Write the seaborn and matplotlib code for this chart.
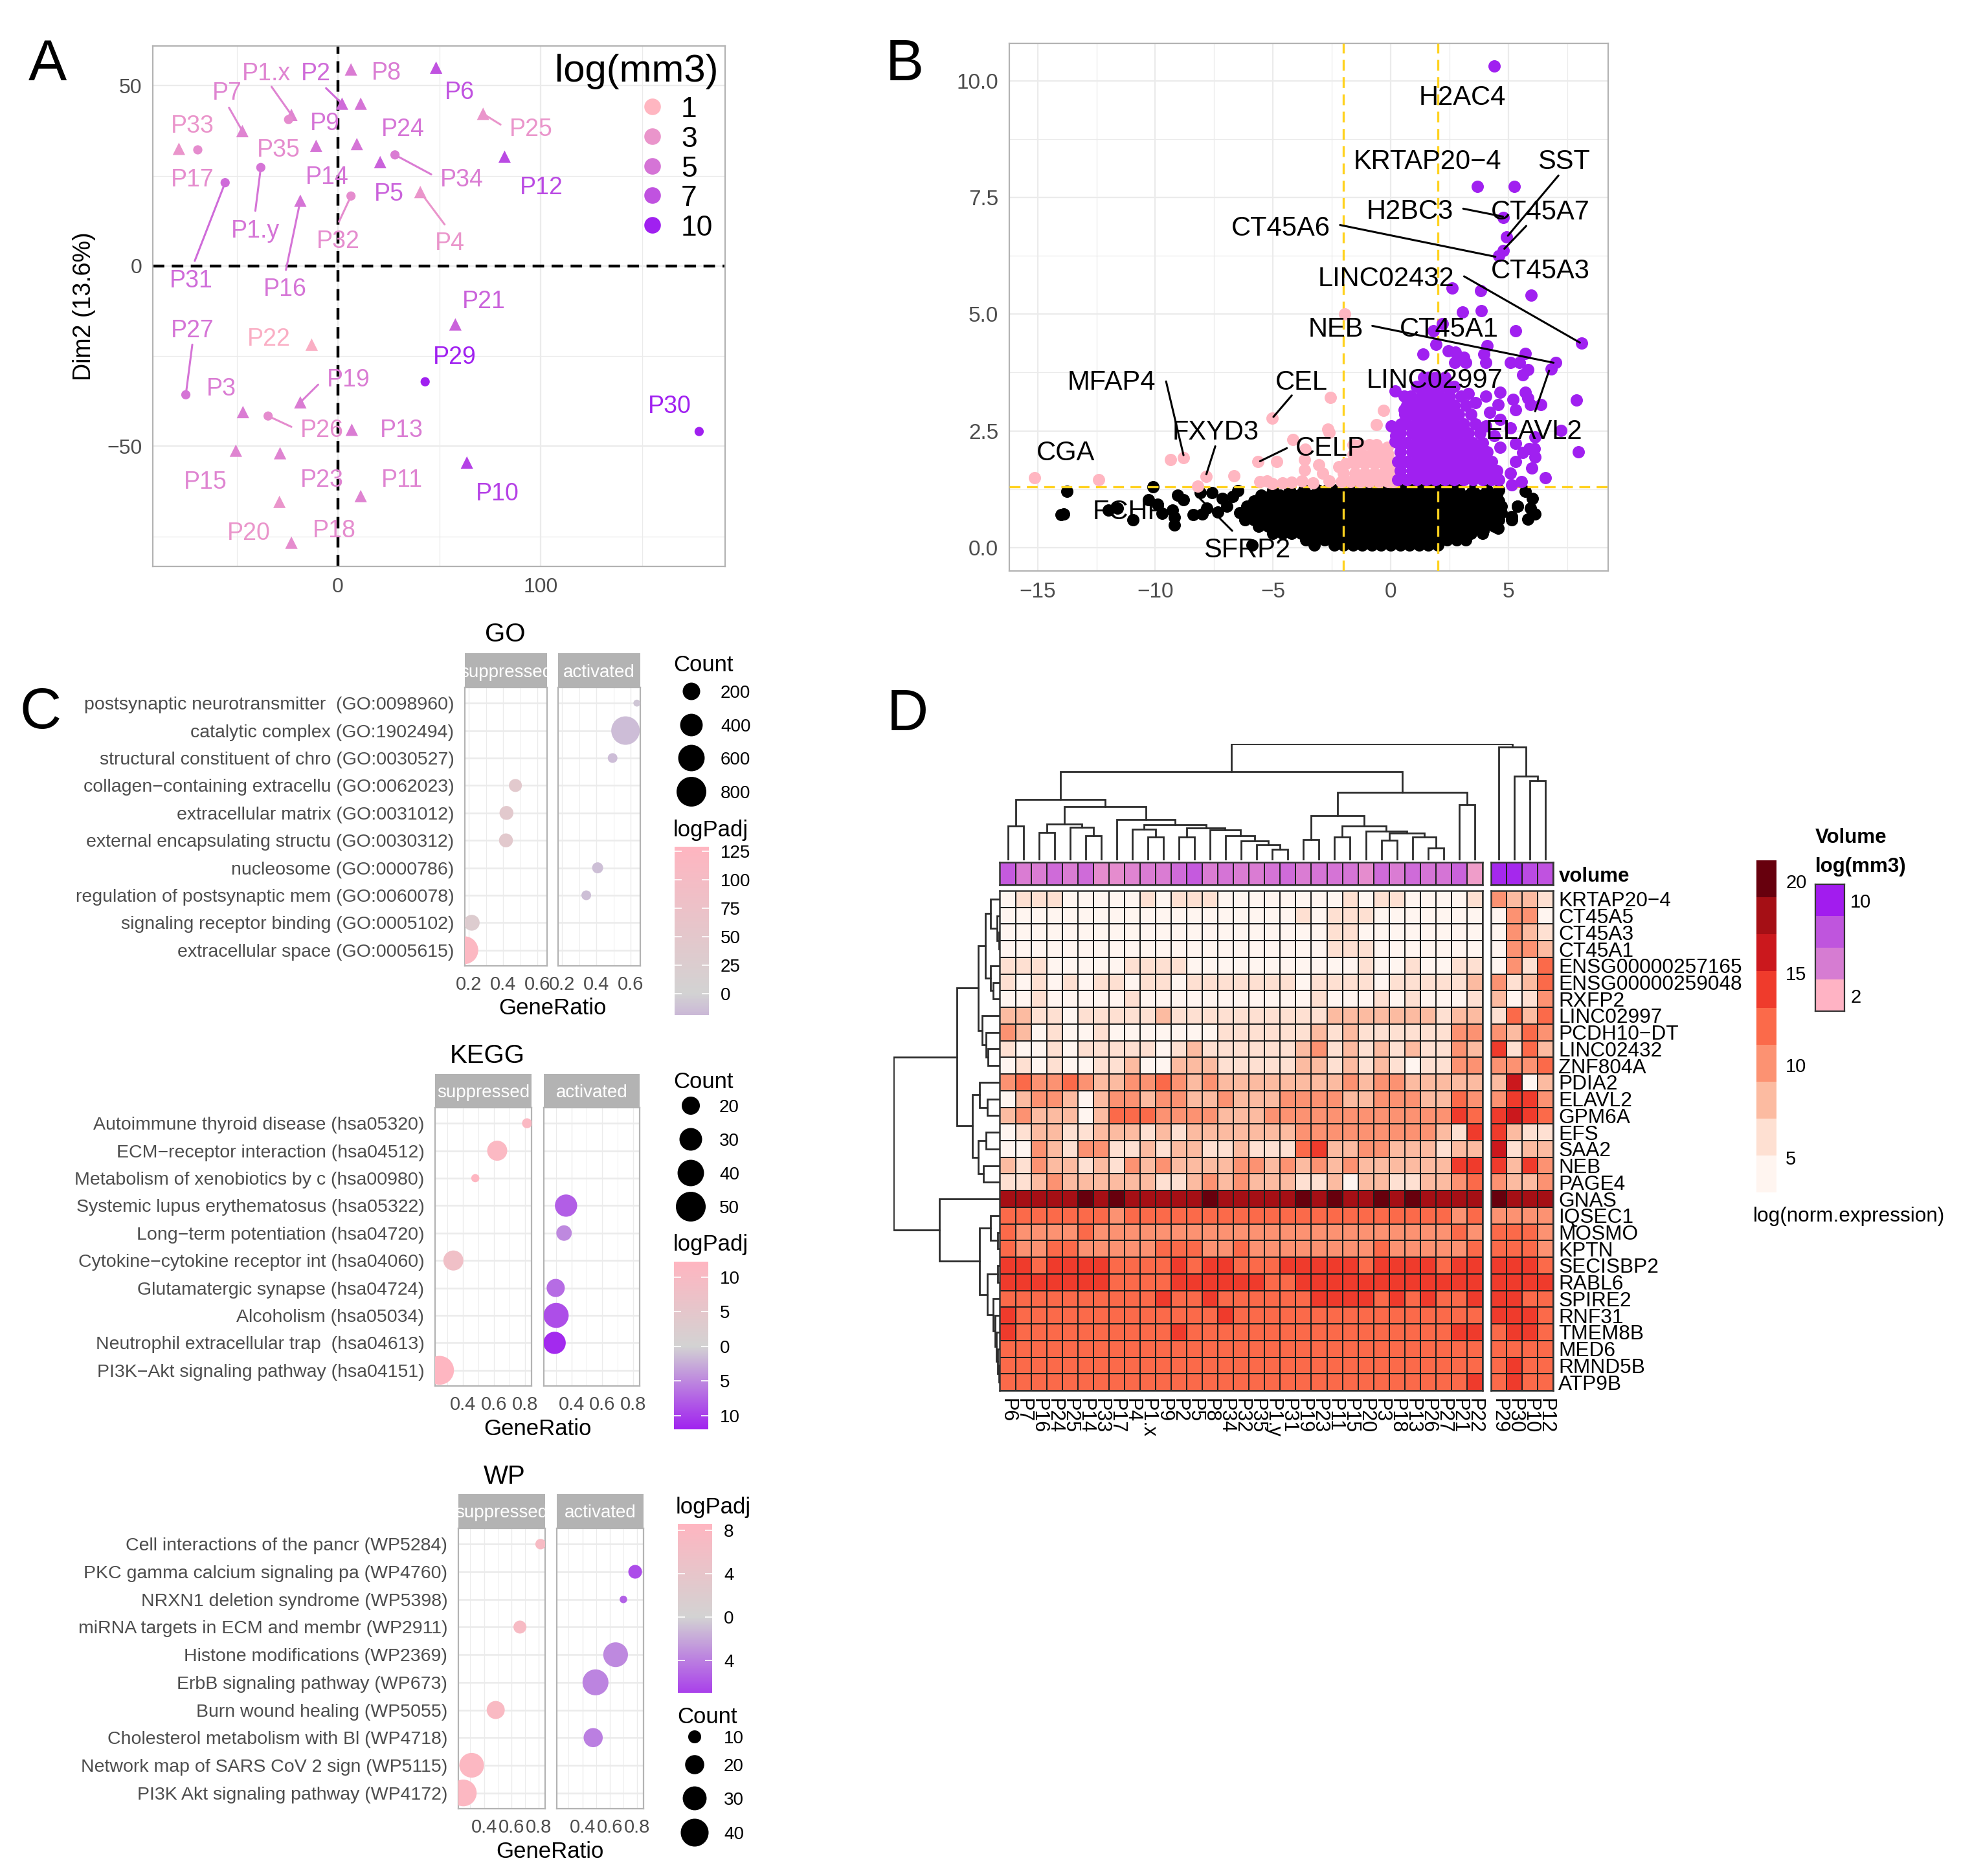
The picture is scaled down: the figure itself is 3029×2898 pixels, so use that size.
import numpy as np
import pandas as pd
import matplotlib
matplotlib.use("Agg")
import matplotlib.pyplot as plt
from matplotlib.colors import LinearSegmentedColormap, ListedColormap, Normalize
import seaborn as sns

W, H = 3029, 2898
PX = 100 / 72  # pixels per point at dpi 100
GREY = "#4D4D4D"
FRAME = "#B3B3B3"
GRIDC = "#EBEBEB"
PINK = "#FFB6C1"
PURPLE = "#A020F0"

# panel A
a_names = ["P8", "P6", "P2", "P9", "P25", "P1.x", "P35", "P7", "P33", "P17", "P14", "P24", "P5", "P34", "P12",
           "P1.y", "P31", "P4", "P32", "P16", "P21", "P22", "P29", "P27", "P19", "P3", "P26", "P13", "P30",
           "P15", "P23", "P10", "P11", "P20", "P18"]
a_x = [6.4, 48.4, 2.0, 11.2, 71.6, -23.0, -24.4, -47.2, -78.5, -69.2, -10.8, 9.3, 20.8, 28.1, 82.2,
       -38.1, -55.7, 40.6, 6.4, -18.6, 57.9, -13.0, 43.0, -75.1, -18.6, -46.9, -34.5, 6.8, 178.2,
       -50.4, -28.6, 63.6, 11.2, -28.9, -23.0]
a_y = [54.5, 55.0, 45.0, 45.0, 42.2, 41.9, 40.6, 37.4, 32.5, 32.2, 33.3, 33.8, 28.8, 30.8, 30.3,
       27.3, 23.1, 20.5, 19.4, 18.1, -16.2, -21.8, -32.1, -35.7, -37.8, -40.5, -41.6, -45.4, -45.9,
       -51.2, -51.9, -54.5, -63.8, -65.4, -76.7]
a_vol = [4.5, 7, 5.5, 5, 3, 4, 3.5, 4, 3, 3.5, 5, 5, 6, 4.5, 7.5,
         5, 5.5, 3, 3.5, 5, 6, 1.5, 10, 5, 4.5, 4.5, 3.5, 4.5, 10,
         4, 4, 8, 4, 3, 3.5]
a_shape = ["t", "t", "t", "t", "t", "t", "c", "t", "t", "c", "t", "t", "t", "c", "t",
           "c", "c", "t", "c", "t", "t", "t", "c", "c", "t", "t", "c", "t", "c",
           "t", "t", "t", "t", "t", "t"]
a_label_x = [24.0, 59.9, -10.8, -6.6, 95.4, -35.2, -29.3, -54.8, -71.9, -71.9, -5.4, 32.0, 25.2, 61.1, 100.5,
             -40.8, -72.4, 55.3, 0.0, -26.2, 72.1, -34.0, 57.7, -71.9, 5.1, -57.5, -7.8, 31.5, 163.6,
             -65.3, -7.8, 78.5, 31.5, -44.0, -2.0]
a_label_y = [54.2, 48.8, 54.0, 40.1, 38.5, 54.0, 32.8, 48.6, 39.5, 24.5, 25.2, 38.5, 20.7, 24.5, 22.4,
             10.3, -3.5, 6.9, 7.6, -5.7, -9.2, -19.5, -24.7, -17.2, -30.9, -33.4, -44.9, -44.9, -38.3,
             -59.3, -58.8, -62.5, -58.8, -73.4, -72.7]
a_leader_names = ["P2", "P1.x", "P7", "P25", "P34", "P1.y", "P31", "P4", "P32", "P16", "P27", "P19", "P26"]
a_leader_x = [-5.9, -32.8, -53.8, 80.2, 46.0, -40.8, -70.7, 52.6, 0.5, -25.7, -71.9, -9.8, -23.0]
a_leader_y = [49.3, 49.7, 43.9, 39.2, 25.4, 15.3, 1.4, 11.5, 12.3, -1.1, -21.8, -32.9, -44.6]
a_legend = [1, 3, 5, 7, 10]

# panel B
black_levels = [0.05, 0.17, 0.30, 0.45, 0.60, 0.75, 0.88, 1.00, 1.12, 1.24]
black_rows = [
    [-5.9, -3.25, -2.4, -2.0, -1.6, -1.2, -0.8, -0.4, 0.0, 0.4, 0.8, 1.2, 1.6, 2.0],
    [-3.6, -3.2, -2.8, -2.4, -2.0, -1.6, -1.2, -0.8, -0.4, 0.0, 0.4, 0.8, 1.2, 1.6, 2.0, 2.4, 2.8, 3.2],
    [-5.0, -4.6, -4.2, -3.8, -3.4, -3.0, -2.6, -2.2, -1.8, -1.4, -1.0, -0.6, -0.2, 0.2, 0.6, 1.0, 1.4, 1.8, 2.2,
     2.6, 3.0, 3.4, 3.9],
    [-5.6, -5.2, -4.8, -4.4, -4.0, -3.6, -3.2, -2.8, -2.4, -2.0, -1.6, -1.2, -0.8, -0.4, 0.0, 0.4, 0.8, 1.2, 1.6,
     2.0, 2.4, 2.8, 3.2, 3.6, 4.0, 4.4],
    [-6.2, -5.8, -5.4, -5.0, -4.6, -4.2, -3.8, -3.4, -3.0, -2.6, -2.2, -1.8, -1.4, -1.0, -0.6, -0.2, 0.2, 0.6, 1.0,
     1.4, 1.8, 2.2, 2.6, 3.0, 3.4, 3.8, 4.2, 4.6, 5.13],
    [-6.4, -6.0, -5.6, -5.2, -4.8, -4.4, -4.0, -3.6, -3.2, -2.8, -2.4, -2.0, -1.6, -1.2, -0.8, -0.4, 0.0, 0.4, 0.8,
     1.2, 1.6, 2.0, 2.4, 2.8, 3.2, 3.6, 4.0, 4.4, 4.7],
    [-6.1, -5.7, -5.3, -4.9, -4.5, -4.1, -3.7, -3.3, -2.9, -2.5, -2.1, -1.7, -1.3, -0.9, -0.5, -0.1, 0.3, 0.7, 1.1,
     1.5, 1.9, 2.3, 2.7, 3.1, 3.5, 3.9, 4.3, 4.7, 5.4],
    [-5.8, -5.4, -5.0, -4.6, -4.2, -3.8, -3.4, -3.0, -2.6, -2.2, -1.8, -1.4, -1.0, -0.6, -0.2, 0.2, 0.6, 1.0, 1.4,
     1.8, 2.2, 2.6, 3.0, 3.4, 3.8, 4.2, 4.6],
    [-5.5, -5.1, -4.7, -4.3, -3.9, -3.5, -3.1, -2.7, -2.3, -1.9, -1.5, -1.1, -0.7, -0.3, 0.1, 0.5, 0.9, 1.3, 1.7,
     2.1, 2.5, 2.9, 3.3, 3.7, 4.1, 4.5],
    [-5.0, -4.3, -3.7, -3.1, -2.7, -2.3, -1.9, -1.5, -1.1, -0.7, -0.3, 0.1, 0.5, 0.9, 1.3, 1.7, 2.1, 2.5, 2.9, 3.5,
     4.1, 4.6],
]
black_sparse_x = [-13.76, -10.1, -14.0, -13.9, -12.0, -11.6, -10.95, -10.3, -9.9, -9.7, -9.26, -9.2, -9.2, -9.05,
                  -8.8, -8.4, -8.0, -7.8, -7.35, -8.1, -7.6, -7.15, -6.7, -6.5, -6.95, 5.72, 6.03, 5.93, 5.4,
                  6.14, 5.13, 5.82, 4.56, 3.92]
black_sparse_y = [1.2, 1.3, 0.7, 0.72, 0.8, 0.84, 0.59, 1.03, 0.93, 0.73, 0.8, 0.65, 0.49, 1.12,
                  1.03, 0.7, 0.72, 0.84, 0.76, 1.18, 1.18, 1.05, 1.09, 1.22, 0.88, 1.2, 1.05, 0.84, 0.88,
                  0.72, 0.67, 0.61, 0.42, 0.36]
purple_levels = [1.45, 1.65, 1.85, 2.05, 2.25, 2.45, 2.65, 2.85, 3.05, 3.25, 3.45, 3.65]
purple_rows = [
    [0.3, 0.7, 1.1, 1.5, 1.9, 2.3, 2.7, 3.1, 3.5, 3.9, 4.3, 4.6],
    [0.4, 0.9, 1.3, 1.7, 2.1, 2.5, 2.9, 3.3, 3.7, 4.1, 4.5],
    [0.3, 0.7, 1.1, 1.5, 1.9, 2.3, 2.7, 3.1, 3.5, 3.9, 4.3],
    [0.4, 0.9, 1.3, 1.7, 2.1, 2.5, 2.9, 3.3, 3.7, 4.1],
    [0.3, 0.7, 1.1, 1.5, 1.9, 2.3, 2.7, 3.1, 3.5, 3.9],
    [0.4, 0.9, 1.3, 1.7, 2.1, 2.5, 2.9, 3.3, 3.8],
    [0.45, 0.7, 1.1, 1.5, 1.9, 2.3, 2.7, 3.1, 3.6],
    [0.6, 0.9, 1.3, 1.7, 2.1, 2.5, 2.9, 3.4],
    [0.7, 1.1, 1.5, 1.9, 2.3, 2.7, 3.2],
    [0.85, 1.3, 1.7, 2.1, 2.5, 3.0],
    [1.1, 1.5, 1.9, 2.3, 2.7],
    [1.4, 1.9, 2.3],
]
purple_sparse_x = [4.39, 3.69, 5.25, 4.79, 4.92, 4.79, 4.58, 2.6, 3.82, 5.97, 3.06, 3.86, 2.19, 1.81, 5.32, 8.12,
                   1.92, 4.11, 1.37, 2.45, 2.76, 3.95, 5.72, 3.1, 2.72, 3.19, 4.03, 5.08, 5.46, 7.0, 6.81, 5.82,
                   5.61, 0.19, 0.59, 4.66, 5.72, 4.03, 5.19, 5.82, 7.89, 6.39, 5.93, 4.56, 0.59, 5.3, 4.66, 5.08,
                   4.03, 7.24, 6.14, 5.3, 5.89, 6.1, 5.61, 7.97, 6.14, 4.66, 5.3, 5.99, 5.08, 6.56, 5.55, 5.13,
                   0.02, 0.23, 0.19, 1.6, 2.3, 3.3, 3.6, 4.2, 4.4, 3.8, 4.0]
purple_sparse_y = [10.31, 7.74, 7.74, 7.07, 6.65, 6.36, 6.25, 5.56, 5.51, 5.4, 5.05, 5.07, 4.8, 4.65, 4.65, 4.38,
                   4.35, 4.33, 4.14, 4.21, 4.18, 4.14, 4.16, 4.08, 3.96, 3.96, 3.96, 3.96, 3.96, 3.96, 3.83, 3.81,
                   3.7, 3.36, 3.24, 3.33, 3.33, 3.24, 3.17, 3.2, 3.16, 3.07, 3.07, 3.07, 2.95, 2.95, 2.74, 2.57,
                   2.6, 2.51, 2.37, 2.23, 2.12, 2.12, 2.04, 2.05, 1.94, 2.15, 1.85, 1.71, 1.6, 1.5, 1.41, 1.35,
                   2.6, 2.4, 2.27, 3.65, 3.6, 3.3, 3.1, 2.9, 2.4, 2.2, 1.9]
pink_levels = [1.42, 1.60, 1.80, 2.00, 2.20]
pink_rows = [
    [-2.1, -1.7, -1.3, -0.9, -0.5, -0.1, 0.1],
    [-2.0, -1.5, -1.1, -0.7, -0.3, 0.0, 0.15],
    [-1.9, -1.5, -1.1, -0.7, -0.3, -0.05],
    [-1.6, -1.2, -0.8, -0.4, -0.1],
    [-1.6, -1.3, -0.9, -0.6],
]
pink_sparse_x = [-15.13, -12.4, -9.35, -8.8, -7.83, -8.2, -6.67, -5.65, -4.83, -5.04, -4.16, -3.63, -3.65, -3.67,
                 -3.78, -3.04, -2.89, -2.68, -2.6, -2.55, -1.94, -0.3, -0.61, -5.57, -5.25, -5.04, -2.19, -2.6,
                 -3.3, -0.13, -4.6, -4.2]
pink_sparse_y = [1.49, 1.45, 1.89, 1.93, 1.52, 1.32, 1.54, 1.84, 1.84, 2.77, 2.31, 2.1, 1.88, 1.66,
                 1.43, 1.77, 1.6, 2.53, 2.47, 3.21, 5.01, 2.94, 2.63, 1.41, 1.43, 1.37, 1.73, 1.43,
                 1.38, 2.15, 1.38, 1.4]
b_labels = ["H2AC4", "KRTAP20\u22124", "SST", "H2BC3", "CT45A7", "CT45A6", "CT45A3", "LINC02432", "NEB", "CT45A1",
            "MFAP4", "CEL", "LINC02997", "FXYD3", "ELAVL2", "CELP", "CGA", "FCHP", "SFRP2"]
b_label_x = [3.04, 1.56, 7.36, 0.82, 6.35, -4.66, 6.35, -0.19, -2.34, 2.47, -11.86, -3.78, 1.86, -7.43, 6.1, -2.55,
             -13.8, -11.1, -6.1]
b_label_y = [9.7, 8.33, 8.33, 7.26, 7.24, 6.9, 5.98, 5.82, 4.74, 4.73, 3.6, 3.6, 3.64, 2.53, 2.54, 2.18, 2.08, 0.83,
             0.0]
b_leader_x0 = [7.13, 3.08, 5.76, -2.15, 3.12, -0.78, 6.14, -9.54, -4.2, -7.45, -4.41, -6.73]
b_leader_y0 = [7.97, 7.26, 6.89, 6.91, 5.81, 4.75, 2.92, 3.56, 3.26, 2.17, 2.13, 0.36]
b_leader_x1 = [4.98, 4.77, 4.83, 4.45, 8.04, 6.92, 6.73, -8.8, -4.98, -7.83, -5.55, -8.1]
b_leader_y1 = [6.68, 7.09, 6.4, 6.23, 4.39, 3.96, 3.79, 1.98, 2.8, 1.57, 1.85, 1.05]

# panel C
go_terms = ["postsynaptic neurotransmitter  (GO:0098960)", "catalytic complex (GO:1902494)",
            "structural constituent of chro (GO:0030527)", "collagen\u2212containing extracellu (GO:0062023)",
            "extracellular matrix (GO:0031012)", "external encapsulating structu (GO:0030312)",
            "nucleosome (GO:0000786)", "regulation of postsynaptic mem (GO:0060078)",
            "signaling receptor binding (GO:0005102)", "extracellular space (GO:0005615)"]
go_side = ["a", "a", "a", "s", "s", "s", "a", "a", "s", "s"]
go_ratio = [0.635, 0.569, 0.494, 0.471, 0.419, 0.416, 0.407, 0.341, 0.217, 0.174]
go_count = [4, 720, 27, 80, 100, 100, 45, 27, 150, 680]
go_logpadj = [-10, -16, -16, 45, 45, 45, -15, -15, 30, 120]

kegg_terms = ["Autoimmune thyroid disease (hsa05320)", "ECM\u2212receptor interaction (hsa04512)",
              "Metabolism of xenobiotics by c (hsa00980)", "Systemic lupus erythematosus (hsa05322)",
              "Long\u2212term potentiation (hsa04720)", "Cytokine\u2212cytokine receptor int (hsa04060)",
              "Glutamatergic synapse (hsa04724)", "Alcoholism (hsa05034)",
              "Neutrophil extracellular trap  (hsa04613)", "PI3K\u2212Akt signaling pathway (hsa04151)"]
kegg_side = ["s", "s", "s", "a", "a", "s", "a", "a", "a", "s"]
kegg_ratio = [0.813, 0.621, 0.48, 0.365, 0.352, 0.339, 0.298, 0.301, 0.291, 0.25]
kegg_count = [7, 24, 5, 29, 15, 24, 20, 36, 29, 47]
kegg_logpadj = [11, 11, 12, -8, -5, 8, -7, -9, -11.5, 12]

wp_terms = ["Cell interactions of the pancr (WP5284)", "PKC gamma calcium signaling pa (WP4760)",
            "NRXN1 deletion syndrome (WP5398)", "miRNA targets in ECM and membr (WP2911)",
            "Histone modifications (WP2369)", "ErbB signaling pathway (WP673)",
            "Burn wound healing (WP5055)", "Cholesterol metabolism with Bl (WP4718)",
            "Network map of SARS CoV 2 sign (WP5115)", "PI3K Akt signaling pathway (WP4172)"]
wp_side = ["s", "a", "a", "s", "a", "a", "s", "a", "s", "s"]
wp_ratio = [0.814, 0.786, 0.70, 0.663, 0.643, 0.496, 0.486, 0.479, 0.31, 0.249]
wp_count = [7, 11, 4, 10, 32, 35, 18, 20, 32, 37]
wp_logpadj = [7, -6.5, -5.5, 7, -3.5, -3.8, 7.5, -4, 8, 8]

# panel D
main_cols = ["P6", "P7", "P16", "P24", "P25", "P14", "P33", "P17", "P4", "P1.x", "P9", "P2", "P5", "P8", "P34", "P32",
             "P35", "P1.y", "P31", "P19", "P23", "P11", "P15", "P20", "P3", "P18", "P13", "P26", "P27", "P21", "P22"]
side_cols = ["P29", "P30", "P10", "P12"]
volume_main = [6.5, 4.5, 4.5, 5.5, 4.5, 5.5, 3.5, 3.5, 4, 4.5, 4.5, 5.5, 6.5, 4.5, 5, 4.5, 4.5, 5, 5.5, 4.5, 5, 5, 5,
               3.5, 5.5, 4.5, 5.5, 5, 5, 6, 2.5]
volume_side = [9.5, 9.5, 7.5, 7]
genes = ["KRTAP20\u22124", "CT45A5", "CT45A3", "CT45A1", "ENSG00000257165", "ENSG00000259048", "RXFP2", "LINC02997",
         "PCDH10\u2212DT", "LINC02432", "ZNF804A", "PDIA2", "ELAVL2", "GPM6A", "EFS", "SAA2", "NEB", "PAGE4", "GNAS",
         "IQSEC1", "MOSMO", "KPTN", "SECISBP2", "RABL6", "SPIRE2", "RNF31", "TMEM8B", "MED6", "RMND5B", "ATP9B"]
# colour steps of the heatmap, 0 to 8, each step is 2 units of log expression
expr_main = [
    [0, 1, 1, 1, 0, 0, 0, 0, 0, 1, 0, 1, 1, 1, 0, 0, 0, 0, 0, 0, 0, 0, 1, 0, 1, 1, 0, 0, 0, 0, 1],
    [0, 0, 0, 0, 0, 0, 0, 0, 0, 0, 0, 0, 0, 0, 0, 0, 0, 0, 0, 1, 0, 1, 1, 1, 0, 0, 0, 0, 0, 0, 0],
    [0, 0, 0, 0, 0, 0, 0, 0, 0, 0, 0, 0, 0, 0, 0, 0, 0, 0, 0, 0, 0, 1, 1, 0, 0, 0, 0, 0, 0, 0, 0],
    [0, 0, 0, 0, 0, 0, 0, 0, 0, 0, 0, 0, 0, 0, 0, 0, 0, 0, 0, 0, 0, 1, 1, 1, 0, 0, 0, 0, 0, 0, 0],
    [1, 1, 1, 0, 0, 0, 0, 0, 1, 1, 1, 1, 0, 0, 0, 0, 0, 0, 0, 0, 0, 0, 0, 1, 0, 0, 1, 0, 0, 1, 1],
    [1, 0, 1, 0, 1, 0, 1, 1, 0, 1, 1, 0, 1, 1, 1, 1, 1, 1, 1, 0, 1, 1, 1, 1, 0, 1, 1, 1, 1, 1, 2],
    [0, 0, 1, 0, 0, 0, 0, 0, 1, 0, 0, 0, 0, 0, 0, 0, 0, 0, 0, 0, 1, 0, 0, 0, 1, 0, 1, 0, 0, 0, 1],
    [2, 2, 1, 1, 0, 1, 1, 1, 1, 1, 2, 1, 1, 1, 1, 1, 1, 1, 1, 1, 1, 2, 2, 2, 2, 2, 2, 2, 1, 2, 2],
    [3, 2, 0, 1, 0, 0, 1, 0, 0, 0, 0, 0, 0, 0, 1, 1, 1, 1, 1, 1, 2, 1, 2, 1, 1, 1, 1, 1, 1, 3, 3],
    [1, 0, 0, 1, 0, 1, 1, 1, 1, 1, 0, 1, 2, 1, 1, 1, 1, 1, 1, 2, 3, 1, 2, 1, 2, 1, 2, 1, 1, 3, 2],
    [0, 1, 0, 1, 0, 0, 1, 1, 2, 0, 0, 2, 2, 2, 1, 1, 1, 1, 1, 2, 2, 1, 2, 1, 2, 1, 0, 1, 1, 3, 3],
    [3, 4, 3, 3, 4, 3, 2, 2, 3, 3, 4, 3, 2, 3, 2, 2, 2, 2, 2, 2, 2, 2, 3, 2, 3, 3, 2, 2, 2, 2, 2],
    [0, 2, 3, 3, 2, 0, 2, 3, 3, 2, 3, 3, 2, 2, 3, 2, 2, 2, 3, 3, 3, 3, 2, 2, 3, 3, 3, 2, 2, 4, 3],
    [2, 3, 2, 2, 2, 0, 2, 4, 4, 4, 3, 3, 3, 3, 2, 2, 2, 3, 3, 3, 3, 3, 3, 3, 3, 3, 3, 3, 3, 5, 4],
    [0, 1, 2, 2, 1, 1, 2, 2, 2, 1, 2, 1, 2, 2, 2, 2, 2, 2, 2, 3, 3, 3, 3, 3, 3, 3, 3, 3, 2, 1, 5],
    [0, 0, 3, 2, 1, 3, 3, 1, 1, 2, 1, 2, 2, 1, 1, 2, 1, 1, 1, 4, 5, 2, 2, 3, 3, 2, 2, 2, 1, 2, 2],
    [2, 1, 3, 2, 2, 1, 2, 1, 3, 2, 3, 2, 2, 2, 2, 3, 3, 2, 3, 2, 3, 2, 3, 2, 2, 2, 2, 2, 2, 5, 5],
    [1, 1, 2, 3, 2, 2, 2, 2, 2, 2, 1, 1, 2, 3, 2, 3, 2, 2, 2, 1, 1, 2, 0, 2, 2, 1, 1, 2, 2, 3, 4],
    [7, 7, 7, 7, 7, 8, 7, 8, 7, 7, 7, 7, 7, 8, 7, 7, 7, 7, 7, 8, 7, 8, 7, 7, 8, 7, 8, 7, 7, 7, 7],
    [4, 4, 4, 4, 4, 4, 4, 3, 4, 4, 4, 4, 4, 4, 4, 4, 4, 4, 4, 4, 4, 4, 4, 4, 4, 4, 4, 4, 4, 3, 4],
    [4, 3, 3, 3, 3, 4, 3, 3, 3, 3, 3, 3, 3, 3, 3, 3, 3, 3, 3, 3, 3, 3, 3, 3, 3, 3, 3, 3, 3, 4, 3],
    [4, 3, 3, 4, 4, 3, 3, 3, 3, 3, 4, 4, 4, 3, 3, 4, 3, 3, 3, 3, 3, 3, 3, 3, 4, 3, 3, 3, 3, 3, 4],
    [5, 5, 4, 5, 5, 5, 5, 4, 4, 4, 4, 5, 4, 5, 5, 4, 4, 4, 5, 5, 5, 5, 5, 4, 5, 5, 5, 5, 4, 5, 5],
    [5, 5, 5, 5, 5, 5, 5, 4, 4, 4, 4, 5, 5, 5, 5, 5, 5, 4, 4, 5, 5, 5, 5, 5, 5, 5, 5, 5, 5, 5, 5],
    [4, 4, 4, 4, 4, 4, 4, 4, 4, 4, 5, 4, 4, 5, 4, 4, 4, 4, 4, 4, 5, 5, 5, 5, 4, 5, 4, 5, 4, 4, 5],
    [5, 4, 4, 4, 4, 4, 4, 4, 4, 4, 4, 4, 4, 4, 5, 4, 4, 4, 4, 4, 4, 4, 4, 4, 4, 4, 4, 4, 4, 4, 4],
    [5, 4, 4, 4, 4, 4, 4, 4, 4, 4, 4, 5, 4, 4, 4, 4, 4, 4, 4, 4, 4, 4, 4, 4, 4, 4, 4, 4, 4, 5, 5],
    [4, 4, 4, 4, 4, 4, 4, 4, 4, 4, 4, 4, 4, 4, 4, 4, 4, 4, 4, 4, 4, 4, 4, 4, 4, 4, 4, 4, 4, 4, 4],
    [4, 4, 4, 4, 4, 4, 4, 4, 4, 4, 4, 4, 4, 4, 4, 4, 4, 4, 4, 4, 4, 4, 4, 4, 4, 4, 4, 4, 4, 4, 4],
    [4, 4, 4, 4, 4, 4, 4, 4, 4, 4, 4, 4, 4, 4, 4, 4, 4, 4, 4, 4, 4, 4, 4, 4, 4, 4, 4, 4, 4, 4, 5],
]
expr_side = [[3, 2, 2, 1], [0, 3, 3, 0], [0, 3, 2, 1], [0, 3, 3, 2], [0, 3, 1, 4], [3, 1, 2, 4], [2, 0, 1, 3],
             [1, 4, 2, 4], [3, 2, 4, 3], [5, 1, 4, 2], [3, 3, 3, 4], [2, 6, 0, 2], [3, 5, 5, 3], [5, 6, 5, 4],
             [5, 2, 1, 1], [6, 1, 2, 2], [5, 2, 5, 3], [3, 2, 2, 3], [8, 7, 7, 7], [3, 3, 3, 3], [4, 4, 4, 3],
             [4, 4, 4, 3], [5, 5, 5, 4], [5, 5, 5, 5], [5, 5, 4, 4], [5, 5, 5, 4], [4, 5, 5, 4], [4, 4, 4, 4],
             [4, 5, 4, 4], [4, 5, 4, 4]]
reds9 = ["#FFF5F0", "#FEE0D2", "#FCBBA1", "#FC9272", "#FB6A4A", "#EF3B2C", "#CB181D", "#A50F15", "#67000D"]
volume_steps = ["#FFB3C4", "#D67CD2", "#BF55DD", "#A21CEE"]

# dendrograms, each node is (height, left, right), a leaf is the column or row number
col_tree = (469,
            (357,
             (243, (137, 0, 1),
              (215, (144, (110, 2, 3), (132, 4, (99, 5, 6))),
               (163, 7,
                (142, (124, 8, (94, 9, 10)),
                 (130, (94, 11, 12),
                  (122, 13, (97, 14, (77, 15, (62, 16, (44, 17, 18)))))))))),
             (273,
              (180, (83, 19, 20),
               (137, (93, 21, 22),
                (117, 23, (109, (79, 24, 25), (94, 26, (48, 27, 28)))))),
              (224, 29, 30))),
            (456, 31, (338, 32, (320, 33, 34))))
row_tree = (258,
            (105,
             (53,
              (35, (23, 0, (7, 1, (3, 2, 3))), (23, 4, (17, 5, 6))),
              (43, 7, (33, 8, (29, 9, 10)))),
             (67,
              (50, 11, (30, 12, 13)),
              (53, (33, 14, 15), (40, 16, 17)))),
            (147, 18,
             (50,
              (23, 19, (5, 20, 21)),
              (30, (5, 22, 23),
               (17, 24, (12, 25, (8, 26, (5, 27, (3, 28, 29)))))))))

sns.set_theme(style="white")
plt.rcParams["font.family"] = ["Liberation Sans", "DejaVu Sans"]
plt.rcParams["axes.unicode_minus"] = True

volume_cmap = LinearSegmentedColormap.from_list("volume", [PINK, PURPLE])
volume_norm = Normalize(1, 10)
padj_cmap = LinearSegmentedColormap.from_list("padj", [PURPLE, "#D3D3D3", PINK])

fig = plt.figure(figsize=(W / 100, H / 100), dpi=100, facecolor="white")


def axes_px(x0, y0, x1, y1):
    return fig.add_axes([x0 / W, 1 - y1 / H, (x1 - x0) / W, (y1 - y0) / H])


def text_px(x, y, s, **kw):
    kw.setdefault("va", "center_baseline")
    kw.setdefault("ha", "left")
    kw.setdefault("color", "black")
    fig.text(x / W, 1 - y / H, s, **kw)


def frame_axes(ax, tick_size, pad=12):
    ax.set_axisbelow(True)
    ax.grid(True, which="major", color=GRIDC, linewidth=1.6)
    ax.grid(True, which="minor", color=GRIDC, linewidth=0.9)
    ax.tick_params(which="both", length=0)
    ax.tick_params(which="major", labelsize=tick_size, labelcolor=GREY, pad=pad)
    for spine in ax.spines.values():
        spine.set_visible(True)
        spine.set_color(FRAME)
        spine.set_linewidth(1.6)
    ax.set_xlabel("")
    ax.set_ylabel("")


def draw_tree(ax, node, horizontal, pos_of):
    """Returns (position, height) of the node and draws its two arms"""
    if not isinstance(node, tuple):
        return pos_of(node), 0
    h, left, right = node
    p0, h0 = draw_tree(ax, left, horizontal, pos_of)
    p1, h1 = draw_tree(ax, right, horizontal, pos_of)
    xs, ys = [p0, p0, p1, p1], [h0, h, h, h1]
    if horizontal:
        ax.plot(ys, xs, color="#2B2B2B", lw=2.0, solid_joinstyle="miter")
    else:
        ax.plot(xs, ys, color="#2B2B2B", lw=2.0, solid_joinstyle="miter")
    return (p0 + p1) / 2, h


# ---------- panel A
ax = axes_px(236, 71, 1120, 875)
a_df = pd.DataFrame({"x": a_x, "y": a_y, "vol": a_vol, "shape": a_shape, "name": a_names})
sns.scatterplot(data=a_df[a_df["shape"] == "t"], x="x", y="y", hue="vol", hue_norm=volume_norm, palette=volume_cmap,
                marker="^", s=190, linewidth=0, legend=False, ax=ax, zorder=3)
sns.scatterplot(data=a_df[a_df["shape"] == "c"], x="x", y="y", hue="vol", hue_norm=volume_norm, palette=volume_cmap,
                marker="o", s=105, linewidth=0, legend=False, ax=ax, zorder=3)
ax.set_xticks([0, 100])
ax.set_xticks([-50, 50, 150], minor=True)
ax.set_yticks([-50, 0, 50])
ax.set_yticks([-75, -25, 25], minor=True)
ax.set_xlim(-91.4, 191)
ax.set_ylim(-83.3, 61)
frame_axes(ax, 23)
ax.axhline(0, color="black", lw=3.2, linestyle=(0, (4, 2.6)), zorder=2)
ax.axvline(0, color="black", lw=3.2, linestyle=(0, (4, 2.6)), zorder=2)
for name, lx, ly, vol in zip(a_names, a_label_x, a_label_y, a_vol):
    ax.text(lx, ly, name, fontsize=27, color=volume_cmap(volume_norm(vol)), ha="center", va="center_baseline",
            zorder=5)
for name, lx, ly in zip(a_leader_names, a_leader_x, a_leader_y):
    i = a_names.index(name)
    ax.plot([lx, a_x[i]], [ly, a_y[i]], color=volume_cmap(volume_norm(a_vol[i])), lw=2.2, zorder=4)
text_px(130, 473, "Dim2 (13.6%)", fontsize=27, rotation=90, ha="center", va="center")
text_px(983, 104, "log(mm3)", fontsize=43, ha="center")
leg = axes_px(968, 130, 1048, 380)
leg.axis("off")
sns.scatterplot(x=[1008] * 5, y=[165, 211, 257, 302, 348], hue=a_legend, hue_norm=volume_norm, palette=volume_cmap,
                s=340, linewidth=0, legend=False, ax=leg)
leg.set_xlim(968, 1048)
leg.set_ylim(380, 130)
for val, yy in zip(a_legend, [165, 211, 257, 302, 348]):
    text_px(1052, yy, str(val), fontsize=32)
text_px(73, 91, "A", fontsize=64, ha="center")

# ---------- panel B
ax = axes_px(1559, 67, 2484, 882)
frame_dot = (19 / PX) ** 2
black_x = [v for row in black_rows for v in row] + black_sparse_x
black_y = [lv for lv, row in zip(black_levels, black_rows) for _ in row] + black_sparse_y
purple_x = [v for row in purple_rows for v in row] + purple_sparse_x
purple_y = [lv for lv, row in zip(purple_levels, purple_rows) for _ in row] + purple_sparse_y
pink_x = [v for row in pink_rows for v in row] + pink_sparse_x
pink_y = [lv for lv, row in zip(pink_levels, pink_rows) for _ in row] + pink_sparse_y
sns.scatterplot(x=black_x, y=black_y, color="black", s=frame_dot, linewidth=0, ax=ax, zorder=2)
for pos in [-2, 2]:
    ax.axvline(pos, color="#FFD21F", lw=2.4, linestyle=(0, (5, 3)), zorder=3)
ax.axhline(1.3, color="#FFD21F", lw=2.4, linestyle=(0, (5, 3)), zorder=3)
sns.scatterplot(x=pink_x, y=pink_y, color=PINK, s=frame_dot, linewidth=0, ax=ax, zorder=4)
sns.scatterplot(x=purple_x, y=purple_y, color=PURPLE, s=frame_dot, linewidth=0, ax=ax, zorder=4)
ax.set_xticks([-15, -10, -5, 0, 5])
ax.set_xticks([-12.5, -7.5, -2.5, 2.5, 7.5], minor=True)
ax.set_yticks([0, 2.5, 5, 7.5, 10])
ax.set_yticklabels(["0.0", "2.5", "5.0", "7.5", "10.0"])
ax.set_yticks([1.25, 3.75, 6.25, 8.75], minor=True)
ax.set_xlim(-16.2, 9.24)
ax.set_ylim(-0.5, 10.8)
frame_axes(ax, 24)
for name, lx, ly in zip(b_labels, b_label_x, b_label_y):
    ax.text(lx, ly, name, fontsize=30, color="black", ha="center", va="center_baseline", zorder=6)
for x0, y0, x1, y1 in zip(b_leader_x0, b_leader_y0, b_leader_x1, b_leader_y1):
    ax.plot([x0, x1], [y0, y1], color="black", lw=2.2, zorder=5)
text_px(1397, 92, "B", fontsize=64, ha="center")


# ---------- panel C
def enrich_panel(title, terms, side, ratio, count, logpadj, size_a, size_b, geom, xticks, xlim, pad_max):
    left0, left1, right0, right1, strip0, top, bottom = geom["x0"], geom["x1"], geom["x2"], geom["x3"], geom["s"], \
        geom["t"], geom["b"]
    df = pd.DataFrame({"side": side, "ratio": ratio, "count": count, "padj": logpadj})
    df["row"] = np.arange(len(terms))
    df["s"] = ((size_a + size_b * np.sqrt(df["count"])) / PX) ** 2
    for key, x0, x1, name in [("s", left0, left1, "suppressed"), ("a", right0, right1, "activated")]:
        strip = axes_px(x0, strip0, x1, top)
        strip.set_facecolor(FRAME)
        strip.set_xticks([])
        strip.set_yticks([])
        for spine in strip.spines.values():
            spine.set_visible(False)
        strip.text(0.5, 0.5, name, color="white", fontsize=20, ha="center", va="center_baseline",
                   transform=strip.transAxes, clip_on=True)
        ax = axes_px(x0, top, x1, bottom)
        part = df[df["side"] == key]
        sns.scatterplot(data=part, x="ratio", y="row", hue="padj", hue_norm=Normalize(-pad_max, pad_max),
                        palette=padj_cmap, s=part["s"].values, linewidth=0, legend=False, ax=ax, zorder=3)
        ax.set_xticks(xticks)
        ax.set_xticklabels([f"{t:.1f}" for t in xticks])
        ax.set_xticks([t + (xticks[1] - xticks[0]) / 2 for t in xticks[:-1]]
                      + [xticks[0] - (xticks[1] - xticks[0]) / 2], minor=True)
        ax.set_yticks(range(len(terms)))
        ax.set_xlim(*xlim)
        ax.set_ylim(9.57, -0.57)
        frame_axes(ax, 21, pad=5)
        ax.tick_params(axis="x", which="major", length=0, pad=11)
        ax.grid(True, axis="x", which="major", color=GRIDC, linewidth=1.0)
        ax.grid(True, axis="x", which="minor", color=GRIDC, linewidth=0.7)
        ax.grid(True, axis="y", which="major", color=GRIDC, linewidth=1.8)
        if key == "s":
            ax.set_yticklabels(terms, fontsize=20.5, color=GREY)
            ax.tick_params(axis="y", which="major", length=7, color=FRAME, width=1.4, pad=5)
        else:
            ax.set_yticklabels([])
    text_px(geom["tx"], geom["ty"], title, fontsize=29, ha="center")
    text_px(geom["gx"], geom["gy"], "GeneRatio", fontsize=25, ha="center")


def size_legend(counts, xc, ys, size_a, size_b, title_xy, label_x):
    lax = axes_px(xc - 60, ys[0] - 50, xc + 60, ys[-1] + 50)
    lax.axis("off")
    sizes = [((size_a + size_b * np.sqrt(c)) / PX) ** 2 for c in counts]
    sns.scatterplot(x=[xc] * len(counts), y=ys, color="black", s=sizes, linewidth=0, ax=lax)
    lax.set_xlim(xc - 60, xc + 60)
    lax.set_ylim(ys[-1] + 50, ys[0] - 50)
    text_px(title_xy[0], title_xy[1], "Count", fontsize=25, ha="center")
    for c, yy in zip(counts, ys):
        text_px(label_x, yy, str(c), fontsize=20)


def padj_bar(x0, y0, x1, y1, low, high, pad_max, ticks, labels, title_xy):
    cax = axes_px(x0, y0, x1, y1)
    grad = np.linspace(high, low, 256)[:, None]
    cax.imshow(grad, cmap=padj_cmap, vmin=-pad_max, vmax=pad_max, aspect="auto", extent=[0, 1, low, high])
    cax.set_xticks([])
    cax.yaxis.tick_right()
    cax.set_yticks(ticks)
    cax.set_yticklabels(labels, fontsize=20, color="black")
    cax.tick_params(axis="y", length=0, pad=13)
    cax.hlines(ticks, 0, 0.2, color="white", lw=1.2)
    cax.hlines(ticks, 0.8, 1, color="white", lw=1.2)
    cax.set_xlim(0, 1)
    cax.set_ylim(low, high)
    cax.grid(False)
    for spine in cax.spines.values():
        spine.set_visible(False)
    text_px(title_xy[0], title_xy[1], "logPadj", fontsize=25, ha="center")


go_a, go_b = 8.05, 1.34
kegg_a, kegg_b = -2.9, 6.92
wp_a, wp_b = -3.0, 7.28
enrich_panel("GO", go_terms, go_side, go_ratio, go_count, go_logpadj, go_a, go_b,
             dict(x0=718, x1=845, x2=862, x3=989, s=1009, t=1062, b=1492, tx=780, ty=976, gx=853, gy=1554),
             [0.2, 0.4, 0.6], (0.177, 0.655), 128.5)
size_legend([200, 400, 600, 800], 1068, [1068, 1120, 1171, 1223], go_a, go_b, (1086, 1024), 1113)
padj_bar(1042, 1308.5, 1095, 1568, -18.9, 128.5, 128.5, [0, 25, 50, 75, 100, 125],
         ["0", "25", "50", "75", "100", "125"], (1098, 1279))

enrich_panel("KEGG", kegg_terms, kegg_side, kegg_ratio, kegg_count, kegg_logpadj, kegg_a, kegg_b,
             dict(x0=672, x1=821, x2=840, x3=988, s=1659, t=1711, b=2141, tx=753, ty=1627, gx=830, gy=2204),
             [0.4, 0.6, 0.8], (0.221, 0.842), 12.2)
size_legend([20, 30, 40, 50], 1067, [1708, 1760, 1812, 1864], kegg_a, kegg_b, (1086, 1668), 1111)
padj_bar(1041, 1949, 1094, 2208, -12, 12.2, 12.2, [-10, -5, 0, 5, 10], ["10", "5", "0", "5", "10"], (1098, 1919))

enrich_panel("WP", wp_terms, wp_side, wp_ratio, wp_count, wp_logpadj, wp_a, wp_b,
             dict(x0=708, x1=842, x2=860, x3=994, s=2308, t=2361, b=2794, tx=779, ty=2277, gx=849, gy=2857),
             [0.4, 0.6, 0.8], (0.213, 0.847), 8.6)
size_legend([10, 20, 30, 40], 1073, [2683, 2726, 2778, 2831], wp_a, wp_b, (1092, 2649), 1118)
padj_bar(1047, 2354, 1100, 2615, -7, 8.6, 8.6, [-4, 0, 4, 8], ["4", "0", "4", "8"], (1102, 2325))
text_px(63, 1093, "C", fontsize=64, ha="center")

# ---------- panel D
hm_kw = dict(cmap=ListedColormap(reds9), vmin=0, vmax=9, cbar=False, linewidths=1.3, linecolor="#1E1E1E")

ax_main = axes_px(1544.5, 1376, 2290, 2148)
sns.heatmap(np.array(expr_main) + 0.5, ax=ax_main, xticklabels=main_cols, yticklabels=False, **hm_kw)
ax_side = axes_px(2303, 1376, 2399, 2148)
sns.heatmap(np.array(expr_side) + 0.5, ax=ax_side, xticklabels=side_cols, yticklabels=genes, **hm_kw)
ax_side.yaxis.tick_right()
ax_side.tick_params(axis="y", length=0, pad=6, labelsize=22.8, labelrotation=0, labelcolor="black")
for hm in [ax_main, ax_side]:
    hm.tick_params(axis="x", length=0, pad=9, labelsize=22, labelcolor="black")
    plt.setp(hm.get_xticklabels(), rotation=270, ha="center", va="top")
    for spine in hm.spines.values():
        spine.set_visible(True)
        spine.set_color("#333333")
        spine.set_linewidth(1.8)

ann_kw = dict(cmap=volume_cmap, vmin=1, vmax=10, cbar=False, linewidths=1.3, linecolor="#1E1E1E",
              xticklabels=False, yticklabels=False)
ann_main = axes_px(1544.5, 1331.5, 2290, 1367)
sns.heatmap(np.array([volume_main]), ax=ann_main, **ann_kw)
ann_side = axes_px(2303, 1331.5, 2399, 1367)
sns.heatmap(np.array([volume_side]), ax=ann_side, **ann_kw)
for hm in [ann_main, ann_side]:
    for spine in hm.spines.values():
        spine.set_visible(True)
        spine.set_color("#333333")
        spine.set_linewidth(1.8)
text_px(2408, 1350, "volume", fontsize=22.5, fontweight="bold")

n_main = len(main_cols)
side_gap = 0.54
col_ax = axes_px(1544.5, 1149, 2399, 1328.5)
col_ax.axis("off")
draw_tree(col_ax, col_tree, False, lambda i: i + 0.5 if i < n_main else i + 0.5 + side_gap)
col_ax.set_xlim(0, n_main + side_gap + len(side_cols))
col_ax.set_ylim(0, 469)

row_ax = axes_px(1380, 1376, 1544.5, 2148)
row_ax.axis("off")
draw_tree(row_ax, row_tree, True, lambda i: i + 0.5)
row_ax.set_xlim(258, 0)
row_ax.set_ylim(len(genes), 0)

# step colour key of the expression values
cax = axes_px(2713, 1329, 2744, 1842)
sns.heatmap(np.arange(8, -1, -1)[:, None] + 0.5, ax=cax, cbar=False, xticklabels=False, yticklabels=False,
            cmap=ListedColormap(reds9), vmin=0, vmax=9)
for val, yy in zip([20, 15, 10, 5], [1361, 1503, 1645, 1788]):
    text_px(2758, yy, str(val), fontsize=21)
text_px(2708, 1876, "log(norm.expression)", fontsize=22.7)

vax = axes_px(2804, 1366, 2849, 1562)
sns.heatmap(np.arange(3, -1, -1)[:, None] + 0.5, ax=vax, cbar=False, xticklabels=False, yticklabels=False,
            cmap=ListedColormap(volume_steps), vmin=0, vmax=4)
for spine in vax.spines.values():
    spine.set_visible(True)
    spine.set_color("#333333")
    spine.set_linewidth(1.6)
text_px(2804, 1291, "Volume", fontsize=22.5, fontweight="bold")
text_px(2804, 1335, "log(mm3)", fontsize=22.5, fontweight="bold")
text_px(2858, 1391, "10", fontsize=21)
text_px(2858, 1538, "2", fontsize=21)
text_px(1402, 1095, "D", fontsize=64, ha="center")

fig.savefig("out.png", dpi=100, facecolor="white")
